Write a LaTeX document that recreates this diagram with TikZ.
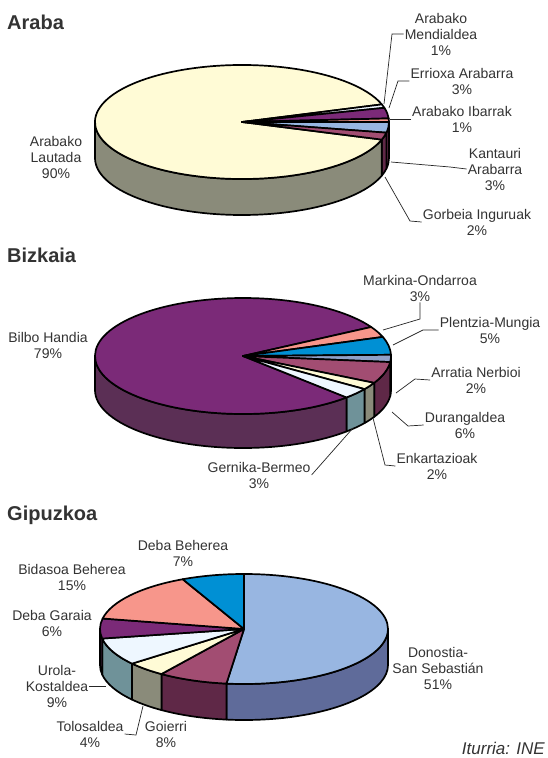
\documentclass[tikz,border=0pt]{standalone}
\usepackage{fontspec}
\setmainfont{Liberation Sans}
\definecolor{cream}{HTML}{FFFBD6}
\definecolor{creamside}{HTML}{8A8B7A}
\definecolor{purp}{HTML}{7B2A78}
\definecolor{purpside}{HTML}{5B2F55}
\definecolor{mauve}{HTML}{A24D72}
\definecolor{mauveside}{HTML}{5F2847}
\definecolor{lblue}{HTML}{98B6E1}
\definecolor{lblueside}{HTML}{5F6B9A}
\definecolor{bblue}{HTML}{0090D4}
\definecolor{salmon}{HTML}{F7968B}
\definecolor{cyanw}{HTML}{EEF7FF}
\definecolor{cyanside}{HTML}{6F9299}
\definecolor{lav}{HTML}{8FA0C8}
\newcommand\topslice[7]{%
  \filldraw[piestroke, fill=#7] (#1,#2) -- ++(#5:#3 and #4)
    arc[start angle=#5, end angle=#6, x radius=#3, y radius=#4] -- cycle;}
\newcommand\sideslice[8]{%
  \filldraw[piestroke, fill=#8] (#1,#2) ++(#6:#3 and #4)
    arc[start angle=#6, end angle=#7, x radius=#3, y radius=#4] -- ++(0,#5)
    arc[start angle=#7, end angle=#6, x radius=#3, y radius=#4] -- cycle;}
\begin{document}
\begin{tikzpicture}[x=1pt, y=-1pt,
  piestroke/.style={draw=black, line width=1.7pt, line join=round},
  lbl/.style={align=center, font=\fontsize{14}{16}\selectfont, text=black!80, inner sep=1pt},
  ttl/.style={anchor=west, font=\fontsize{20}{22}\selectfont\bfseries, text=black!80, inner sep=0pt},
  leader/.style={draw=black!85, line width=0.7pt}]
\useasboundingbox (0,0) rectangle (547,758);
\fill[white] (0,0) rectangle (547,758);

% ---------------- Araba ----------------
\node[ttl] (tAraba) at (7,22) {Araba};
\sideslice{242}{122}{147}{57}{36}{0}{10.8}{mauveside}
\sideslice{242}{122}{147}{57}{36}{10.8}{18}{mauveside}
\sideslice{242}{122}{147}{57}{36}{18}{180}{creamside}
\topslice{242}{122}{147}{57}{18}{342}{cream}
\topslice{242}{122}{147}{57}{-18}{-14.4}{cyanw}
\topslice{242}{122}{147}{57}{-14.4}{-3.6}{purp}
\topslice{242}{122}{147}{57}{-3.6}{0}{salmon}
\topslice{242}{122}{147}{57}{0}{10.8}{lblue}
\topslice{242}{122}{147}{57}{10.8}{18}{mauve}

\node[lbl] (amend) at (441,34) {Arabako\\Mendialdea\\1\%};
\node[lbl] (aerr) at (462,81) {Errioxa Arabarra\\3\%};
\node[lbl] (aiba) at (462,119) {Arabako Ibarrak\\1\%};
\node[lbl] (akan) at (495,169) {Kantauri\\Arabarra\\3\%};
\node[lbl] (agor) at (477,222) {Gorbeia Inguruak\\2\%};
\node[lbl] (alau) at (56,157) {Arabako\\Lautada\\90\%};

\coordinate (pMend) at (384,104);
\coordinate (pErr) at (389,108);
\coordinate (pIba) at (390,119);
\coordinate (pKan) at (391,162);
\coordinate (pGor) at (385,177);
\draw[leader] (amend.west) -- (392,34) -- (pMend);
\draw[leader] (aerr.west) -- (398,81) -- (pErr);
\draw[leader] (aiba.west) -- (pIba);
\draw[leader] (akan.west) -- (450,167) -- (pKan);
\draw[leader] (agor.west) -- (410,221) -- (pGor);

% ---------------- Bizkaia ----------------
\node[ttl] (tBizkaia) at (7,255) {Bizkaia};
\sideslice{243}{356}{148}{58}{34}{0}{6}{mauveside}
\sideslice{243}{356}{148}{58}{34}{6}{27.6}{mauveside}
\sideslice{243}{356}{148}{58}{34}{27.6}{34.8}{creamside}
\sideslice{243}{356}{148}{58}{34}{34.8}{45.6}{cyanside}
\sideslice{243}{356}{148}{58}{34}{45.6}{180}{purpside}
\topslice{243}{356}{148}{58}{45.6}{330}{purp}
\topslice{243}{356}{148}{58}{-30}{-19.2}{salmon}
\topslice{243}{356}{148}{58}{-19.2}{-1.2}{bblue}
\topslice{243}{356}{148}{58}{-1.2}{6}{lav}
\topslice{243}{356}{148}{58}{6}{27.6}{mauve}
\topslice{243}{356}{148}{58}{27.6}{34.8}{cream}
\topslice{243}{356}{148}{58}{34.8}{45.6}{cyanw}

\node[lbl] (amark) at (420,288) {Markina-Ondarroa\\3\%};
\node[lbl] (aple) at (490,330) {Plentzia-Mungia\\5\%};
\node[lbl] (aarr) at (476,380) {Arratia Nerbioi\\2\%};
\node[lbl] (adur) at (465,425) {Durangaldea\\6\%};
\node[lbl] (aenk) at (437,466) {Enkartazioak\\2\%};
\node[lbl] (agern) at (259,475) {Gernika-Bermeo\\3\%};
\node[lbl] (abil) at (48,345) {Bilbo Handia\\79\%};

\coordinate (pMark) at (383,330);
\coordinate (pPle) at (393,345);
\coordinate (pArr) at (396,393);
\coordinate (pDur) at (392,412);
\coordinate (pEnk) at (373,418);
\coordinate (pGern) at (353,428);
\draw[leader] (amark.south) -- (420,319) -- (pMark);
\draw[leader] (aple.west) -- (423,330) -- (pPle);
\draw[leader] (aarr.west) -- (415,379) -- (pArr);
\draw[leader] (adur.west) -- (408,426) -- (pDur);
\draw[leader] (aenk.west) -- (385,465) -- (pEnk);
\draw[leader] (agern.east) -- (pGern);

% ---------------- Gipuzkoa ----------------
\node[ttl] (tGipuzkoa) at (7,515) {Gipuzkoa};
\sideslice{244}{629}{144}{55}{36}{0}{97}{lblueside}
\sideslice{244}{629}{144}{55}{36}{97}{125}{mauveside}
\sideslice{244}{629}{144}{55}{36}{125}{141}{creamside}
\sideslice{244}{629}{144}{55}{36}{141}{170}{cyanside}
\sideslice{244}{629}{144}{55}{36}{170}{180}{purpside}
\topslice{244}{629}{144}{55}{-90}{97}{lblue}
\topslice{244}{629}{144}{55}{97}{125}{mauve}
\topslice{244}{629}{144}{55}{125}{141}{cream}
\topslice{244}{629}{144}{55}{141}{170}{cyanw}
\topslice{244}{629}{144}{55}{170}{191}{purp}
\topslice{244}{629}{144}{55}{191}{244.8}{salmon}
\topslice{244}{629}{144}{55}{244.8}{270}{bblue}

\node[lbl] (adbe) at (183,553) {Deba Beherea\\7\%};
\node[lbl] (abid) at (72,577) {Bidasoa Beherea\\15\%};
\node[lbl] (adga) at (52,623) {Deba Garaia\\6\%};
\node[lbl] (auro) at (57,686) {Urola-\\Kostaldea\\9\%};
\node[lbl] (atol) at (90,734) {Tolosaldea\\4\%};
\node[lbl] (agoi) at (166,734) {Goierri\\8\%};
\node[lbl] (adon) at (438,668) {Donostia-\\San Sebastián\\51\%};
\node[anchor=east, font=\fontsize{17}{19}\selectfont\itshape, text=black!80, inner sep=0pt] (src) at (545,748) {Iturria: INE};

\coordinate (pUro) at (106,686);
\coordinate (pTol) at (143,706);
\draw[leader] (auro.east) -- (pUro);
\draw[leader] (atol.east) -- (136,735) -- (pTol);
\end{tikzpicture}
\end{document}
